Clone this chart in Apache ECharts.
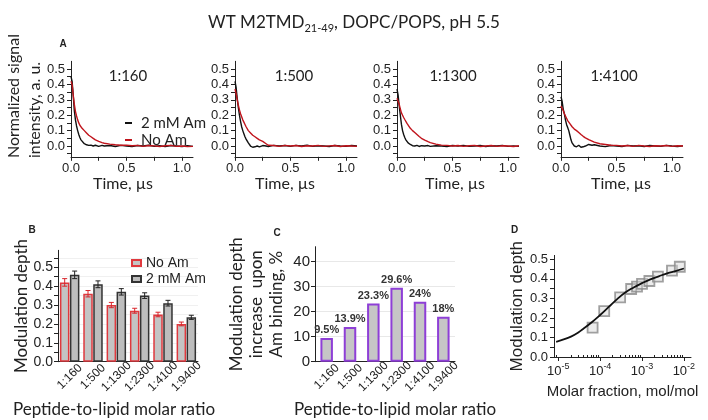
<!DOCTYPE html>
<html><head><meta charset="utf-8">
<script src="https://cdn.jsdelivr.net/npm/echarts@6/dist/echarts.min.js"></script>
<style>html,body{margin:0;padding:0;background:#fff}#chart{width:708px;height:420px}</style>
</head><body><div id="chart"></div>
<script>
// ---------- Panel A: normalized signal vs time (µs) ----------
const timeUs = [0,0.005,0.01,0.02,0.03,0.04,0.05,0.06,0.07,0.08,0.09,0.10,0.12,0.14,0.16,0.18,0.20,0.22,0.25,0.28,0.30,0.35,0.40,0.45,0.50,0.55,0.60,0.65,0.70,0.75,0.80,0.85,0.90,0.95,1.00,1.05,1.10];
const panelRatios = ['1:160','1:500','1:1300','1:4100'];
const black160 = [0.45,0.45,0.42,0.33,0.23,0.17,0.13,0.10,0.075,0.055,0.04,0.03,0.015,0.008,0.004,0.006,0.0,0.005,-0.002,0.004,0.0,0.003,-0.003,0.004,0.0,-0.004,0.003,0.0,0.005,-0.002,0.002,-0.004,0.003,0.0,-0.003,0.002,-0.002];
const red160 = [0.42,0.42,0.40,0.33,0.27,0.225,0.195,0.17,0.15,0.135,0.125,0.115,0.10,0.085,0.07,0.06,0.05,0.04,0.03,0.022,0.018,0.012,0.008,0.005,0.006,0.002,0.004,-0.002,0.003,0.001,-0.003,0.002,0.004,-0.002,0.0,-0.004,-0.002];
const black500 = [0.42,0.42,0.38,0.31,0.25,0.20,0.16,0.125,0.10,0.08,0.06,0.045,0.02,0.0,-0.008,-0.005,0.0,-0.005,0.003,0.0,-0.003,0.004,0.0,0.003,-0.002,0.004,0.0,0.005,-0.002,0.002,0.0,-0.003,0.003,0.0,-0.002,0.003,0.0];
const red500 = [0.37,0.37,0.34,0.30,0.265,0.235,0.21,0.19,0.17,0.155,0.14,0.125,0.10,0.085,0.07,0.06,0.05,0.04,0.03,0.015,0.005,0.003,-0.002,0.004,0.0,0.003,-0.003,0.002,0.0,0.004,-0.002,0.001,0.003,-0.003,0.002,0.0,-0.002];
const black1300 = [0.37,0.365,0.33,0.26,0.20,0.14,0.10,0.075,0.055,0.04,0.03,0.02,0.01,0.002,0.0,0.004,-0.003,0.002,0.0,0.003,-0.002,0.002,0.0,-0.003,0.003,0.0,0.004,-0.002,0.0,0.003,-0.003,0.002,0.0,0.004,-0.002,0.001,-0.002];
const red1300 = [0.31,0.31,0.30,0.27,0.24,0.215,0.20,0.185,0.172,0.16,0.147,0.135,0.115,0.10,0.088,0.075,0.062,0.05,0.038,0.028,0.022,0.012,0.006,0.004,0.0,0.003,-0.002,0.002,0.004,-0.003,0.0,0.003,-0.002,0.002,0.0,-0.003,0.002];
const black4100 = [0.32,0.32,0.29,0.24,0.21,0.17,0.14,0.12,0.10,0.07,0.04,0.02,0.0,-0.005,0.005,-0.008,-0.005,0.0,0.01,0.005,0.008,0.0,-0.004,0.003,0.0,-0.003,0.004,0.0,0.002,-0.003,0.003,0.0,-0.002,0.004,0.0,-0.003,0.001];
const red4100 = [0.26,0.26,0.25,0.23,0.21,0.195,0.18,0.165,0.155,0.145,0.135,0.125,0.11,0.10,0.088,0.075,0.063,0.053,0.042,0.032,0.025,0.015,0.01,0.005,0.004,0.0,0.003,-0.002,0.004,0.0,-0.003,0.002,0.0,0.003,-0.002,0.002,0.0];
const aXTicks = [0,0.25,0.5,0.75,1.0];
const aXLabels = [0,0.5,1.0];
const aYTicks = [-0.05,0,0.05,0.1,0.15,0.2,0.25,0.3,0.35,0.4,0.45,0.5];
const aYLabels = [0,0.1,0.2,0.3,0.4,0.5];

// ---------- Panel B: modulation depth ----------
const ratios = ['1:160','1:500','1:1300','1:2300','1:4100','1:9400'];
const depthNoAm = [0.42,0.36,0.30,0.27,0.25,0.20];
const depthNoAmErr = [0.02,0.017,0.014,0.013,0.012,0.01];
const depthAm = [0.46,0.41,0.37,0.35,0.31,0.235];
const depthAmErr = [0.02,0.018,0.017,0.015,0.015,0.011];
const bYTicks = [0,0.05,0.1,0.15,0.2,0.25,0.3,0.35,0.4,0.45,0.5,0.55];
const bYLabels = [0,0.1,0.2,0.3,0.4,0.5];

// ---------- Panel C: increase upon Am binding ----------
const increasePct = [9.5,13.9,23.3,29.6,24,18];
const cYTicks = [0,10,20,30,40];

// ---------- Panel D: modulation depth vs molar fraction ----------
const molarFraction = [6.6e-5,1.25e-4,3.0e-4,5.5e-4,7.6e-4,1.0e-3,1.5e-3,2.4e-3,5.2e-3,8.0e-3];
const depthPts = [0.15,0.235,0.305,0.348,0.36,0.374,0.389,0.411,0.442,0.462];
const fitX = [8.9e-6,1.58e-5,2.51e-5,3.98e-5,6.31e-5,1.0e-4,1.58e-4,2.51e-4,3.98e-4,6.31e-4,1.0e-3,1.58e-3,2.51e-3,3.98e-3,6.31e-3,1.0e-2];
const fitY = [0.078,0.095,0.115,0.145,0.178,0.215,0.255,0.295,0.33,0.356,0.378,0.397,0.413,0.428,0.44,0.453];
const dXTicks = [1e-5,1e-4,1e-3,1e-2];
const dYTicks = [0,0.05,0.1,0.15,0.2,0.25,0.3,0.35,0.4,0.45,0.5];
const dYLabels = [0,0.1,0.2,0.3,0.4,0.5];

// ---------- styling ----------
const TICKF = 'Liberation Sans, Arial, sans-serif';
const TITLEF = 'Lato, sans-serif';
const INK = '#222';
const AXL = {lineStyle:{color:'#222', width:1}};
const BAR_W_B = 9.5;
const fmt1 = v => v.toFixed(1);

const aLeft = [71,235,397,561];
const aNameShift = [18,22,6,2];
const grid = [];
const xAxis = [];
const yAxis = [];
const series = [];
const blackCurves = [black160, black500, black1300, black4100];
const redCurves = [red160, red500, red1300, red4100];

for (let i = 0; i < 4; i++) {
  grid.push({left: aLeft[i], top: 61.3, width: 122, height: 95.5, outerBoundsMode: 'none'});
  xAxis.push({gridIndex: i, type: 'value', min: 0, max: 1.1,
    axisLine: {show: true, onZero: false, lineStyle: AXL.lineStyle},
    axisTick: {show: true, customValues: aXTicks, length: 4, lineStyle: AXL.lineStyle},
    axisLabel: {customValues: aXLabels, formatter: fmt1, margin: 5, fontSize: 13, color: INK, fontFamily: TICKF},
    splitLine: {show: false},
    name: 'Time, µs', nameLocation: 'middle', nameGap: 17,
    nameTextStyle: {fontFamily: TITLEF, fontSize: 16, color: INK, padding: [0, aNameShift[i], 0, 0]}});
  yAxis.push({gridIndex: i, type: 'value', min: -0.07, max: 0.55,
    axisLine: {show: true, onZero: false, lineStyle: AXL.lineStyle},
    axisTick: {show: true, customValues: aYTicks, length: 4, lineStyle: AXL.lineStyle},
    axisLabel: {customValues: aYLabels, formatter: fmt1, margin: 6, fontSize: 13, color: INK, fontFamily: TICKF},
    splitLine: {show: false}});
  series.push({type: 'line', name: '2 mM Am', xAxisIndex: i, yAxisIndex: i, color: '#111',
    data: timeUs.map((t, j) => [t, blackCurves[i][j]]), showSymbol: false, symbol: 'none',
    lineStyle: {width: 1.4}, z: 2});
  series.push({type: 'line', name: 'No Am', xAxisIndex: i, yAxisIndex: i, color: '#c0141c',
    data: timeUs.map((t, j) => [t, redCurves[i][j]]), showSymbol: false, symbol: 'none',
    lineStyle: {width: 1.4}, z: 3});
}

// B (grid 4)
grid.push({left: 58, top: 250.3, width: 140, height: 111.4, outerBoundsMode: 'none'});
xAxis.push({gridIndex: 4, type: 'category', data: ratios,
  axisLine: {show: true, onZero: false, lineStyle: AXL.lineStyle}, axisTick: {show: false},
  axisLabel: {interval: 0, rotate: 45, align: 'center', verticalAlign: 'middle', margin: 15, fontSize: 12, color: INK, fontFamily: TICKF}});
yAxis.push({gridIndex: 4, type: 'value', min: 0, max: 0.59,
  axisLine: {show: true, lineStyle: AXL.lineStyle},
  axisTick: {show: true, customValues: bYTicks, length: 4, lineStyle: AXL.lineStyle},
  axisLabel: {customValues: bYLabels, formatter: fmt1, margin: 5, fontSize: 14, color: INK, fontFamily: TICKF},
  splitLine: {show: true, lineStyle: {color: '#f0f0f0', width: 1}},
  name: 'Modulation depth', nameLocation: 'middle', nameGap: 28,
  nameTextStyle: {fontFamily: TITLEF, fontSize: 17, color: INK}});
series.push({type: 'bar', name: 'No Am ', xAxisIndex: 4, yAxisIndex: 4, data: depthNoAm,
  barWidth: BAR_W_B, barGap: '5%',
  itemStyle: {color: '#c4c4c4', borderColor: '#e0393e', borderWidth: 1.5}});
series.push({type: 'bar', name: '2 mM Am ', xAxisIndex: 4, yAxisIndex: 4, data: depthAm,
  barWidth: BAR_W_B, barGap: '5%',
  itemStyle: {color: '#bdbdbd', borderColor: '#333', borderWidth: 1.5}});
function errRenderer(side, color) {
  return function (params, api) {
    const i = api.value(0), v = api.value(1), e = api.value(2);
    const top = api.coord([i, v + e]), bot = api.coord([i, v - e]);
    const x = top[0] + side * BAR_W_B * 1.05 / 2;
    const cap = 2.5;
    const style = {stroke: color, lineWidth: 1};
    return {type: 'group', children: [
      {type: 'line', shape: {x1: x, y1: top[1], x2: x, y2: bot[1]}, style},
      {type: 'line', shape: {x1: x - cap, y1: top[1], x2: x + cap, y2: top[1]}, style},
      {type: 'line', shape: {x1: x - cap, y1: bot[1], x2: x + cap, y2: bot[1]}, style}
    ]};
  };
}
series.push({type: 'custom', name: 'errNoAm', xAxisIndex: 4, yAxisIndex: 4, z: 5,
  renderItem: errRenderer(-1, '#d8262c'),
  data: ratios.map((r, i) => [i, depthNoAm[i], depthNoAmErr[i]])});
series.push({type: 'custom', name: 'errAm', xAxisIndex: 4, yAxisIndex: 4, z: 5,
  renderItem: errRenderer(1, '#222'),
  data: ratios.map((r, i) => [i, depthAm[i], depthAmErr[i]])});

// C (grid 5)
grid.push({left: 315, top: 246.7, width: 140, height: 115, outerBoundsMode: 'none'});
xAxis.push({gridIndex: 5, type: 'category', data: ratios,
  axisLine: {show: true, onZero: false, lineStyle: AXL.lineStyle}, axisTick: {show: false},
  axisLabel: {interval: 0, rotate: 45, align: 'center', verticalAlign: 'middle', margin: 15, fontSize: 12, color: INK, fontFamily: TICKF}});
yAxis.push({gridIndex: 5, type: 'value', min: 0, max: 46,
  axisLine: {show: true, lineStyle: AXL.lineStyle},
  axisTick: {show: true, customValues: cYTicks, length: 4, lineStyle: AXL.lineStyle},
  axisLabel: {customValues: cYTicks, margin: 5, fontSize: 15, color: INK, fontFamily: TICKF},
  splitLine: {show: true, lineStyle: {color: '#e8e8e8', width: 1}},
  name: 'Modulation depth\nincrease  upon\nAm binding, %', nameLocation: 'middle', nameGap: 28,
  nameTextStyle: {fontFamily: TITLEF, fontSize: 17, lineHeight: 20, color: INK}});
series.push({type: 'bar', name: 'increase', xAxisIndex: 5, yAxisIndex: 5, data: increasePct,
  barWidth: 12.5,
  itemStyle: {color: '#c6c6c6', borderColor: '#8e3fd6', borderWidth: 2},
  label: {show: true, position: 'top', distance: 2, formatter: p => p.value + '%',
    fontSize: 11, fontWeight: 'bold', color: '#333', fontFamily: 'Liberation Sans Narrow, Liberation Sans, Arial'}});

// D (grid 6)
const dMinor = [];
for (let e = -6; e <= -2; e++) for (let m = 2; m <= 9; m++) dMinor.push(m * Math.pow(10, e));
grid.push({left: 554, top: 255.4, width: 137, height: 101.6, outerBoundsMode: 'none'});
const dRich = {b: {fontSize: 13, lineHeight: 18, color: INK, fontFamily: TICKF}, sup: {fontSize: 9, lineHeight: 8, verticalAlign: 'top', color: INK, fontFamily: TICKF}};
xAxis.push({gridIndex: 6, type: 'log', logBase: 10, min: 7.9e-6, max: 0.0148,
  axisLine: {show: true, onZero: false, lineStyle: AXL.lineStyle},
  axisTick: {show: true, customValues: dXTicks, length: 4, lineStyle: AXL.lineStyle},
  axisLabel: {customValues: dXTicks, margin: 5, formatter: v => '{b|10}{sup|' + Math.round(Math.log10(v)) + '}', rich: dRich},
  splitLine: {show: false},
  name: 'Molar fraction, mol/mol', nameLocation: 'middle', nameGap: 27,
  nameTextStyle: {fontFamily: TICKF, fontSize: 15, color: INK}});
xAxis.push({gridIndex: 6, type: 'log', logBase: 10, min: 7.9e-6, max: 0.0148,
  axisLine: {show: false}, axisLabel: {show: false}, splitLine: {show: false},
  axisTick: {show: true, customValues: dMinor.filter(v => v >= 7.9e-6 && v <= 0.0148), length: 2, lineStyle: AXL.lineStyle}});
yAxis.push({gridIndex: 6, type: 'value', min: 0, max: 0.52,
  axisLine: {show: true, lineStyle: AXL.lineStyle},
  axisTick: {show: true, customValues: dYTicks, length: 4, lineStyle: AXL.lineStyle},
  axisLabel: {customValues: dYLabels, formatter: fmt1, margin: 6, fontSize: 13, color: INK, fontFamily: TICKF},
  splitLine: {show: false},
  name: 'Modulation depth', nameLocation: 'middle', nameGap: 24,
  nameTextStyle: {fontFamily: TICKF, fontSize: 17, color: INK}});
series.push({type: 'scatter', name: 'points', xAxisIndex: 6, yAxisIndex: 6,
  data: molarFraction.map((x, i) => [x, depthPts[i]]), symbol: 'rect', symbolSize: 10,
  itemStyle: {color: 'rgba(215,215,215,0.6)', borderColor: '#8a8a8a', borderWidth: 1.8}, z: 2});
series.push({type: 'line', name: 'fit', xAxisIndex: 6, yAxisIndex: 6,
  data: fitX.map((x, i) => [x, fitY[i]]), smooth: true, showSymbol: false, symbol: 'none',
  color: '#111', lineStyle: {width: 1.8}, z: 3});

const letters = [['A', 63, 44], ['B', 32, 230.5], ['C', 277, 233], ['D', 514.5, 230]];
const ratioPos = [[128, 76], [294, 76], [453, 76], [614, 76]];
const graphic = [];
letters.forEach(l => graphic.push({type: 'text', x: l[1], y: l[2],
  style: {text: l[0], font: 'bold 10px Liberation Sans, Arial', fill: INK, align: 'center', verticalAlign: 'middle'}}));
panelRatios.forEach((r, i) => graphic.push({type: 'text', x: ratioPos[i][0], y: ratioPos[i][1],
  style: {text: r, font: '15px Lato', fill: INK, align: 'center', verticalAlign: 'middle'}}));
graphic.push({type: 'text', x: 24.5, y: 158, rotation: Math.PI / 2,
  style: {text: 'Normalized signal\nintensity, a. u.', font: '16px Lato', lineHeight: 21, fill: INK, align: 'left', verticalAlign: 'middle'}});
[[114, 410], [395, 410]].forEach(p => graphic.push({type: 'text', x: p[0], y: p[1],
  style: {text: 'Peptide-to-lipid molar ratio', font: '17px Lato', fill: INK, align: 'center', verticalAlign: 'middle'}}));

const option = {
  animation: false,
  backgroundColor: '#fff',
  title: {text: '{m|WT M2TMD}{s|21-49}{m|, DOPC/POPS, pH 5.5}', left: 'center', top: 7,
    textStyle: {fontWeight: 'normal', rich: {m: {fontSize: 17, lineHeight: 22, fontFamily: TITLEF, fontWeight: 'normal', color: INK},
      s: {fontSize: 11, lineHeight: 12, verticalAlign: 'bottom', fontFamily: TITLEF, fontWeight: 'normal', color: INK}}}},
  legend: [
    {orient: 'vertical', left: 120, top: 110.5, data: ['2 mM Am', 'No Am'], icon: 'rect',
      itemWidth: 7, itemHeight: 2, itemGap: 2, selectedMode: false,
      textStyle: {fontFamily: TITLEF, fontSize: 15, color: INK, padding: [0, 0, 0, 4]}},
    {orient: 'vertical', left: 126, top: 251, data: ['No Am ', '2 mM Am '], icon: 'rect',
      itemWidth: 9, itemHeight: 6, itemGap: 2, selectedMode: false,
      textStyle: {fontFamily: TICKF, fontSize: 14, color: INK}}
  ],
  grid, xAxis, yAxis, series, graphic
};
const chart = echarts.init(document.getElementById('chart'));
chart.setOption(option);
</script></body></html>
